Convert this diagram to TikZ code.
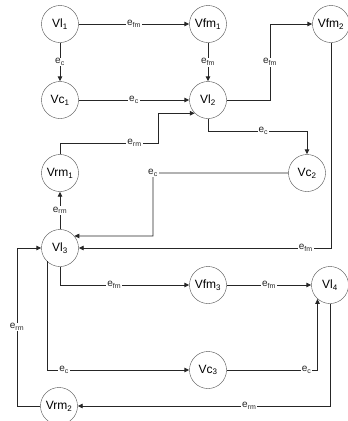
\documentclass[tikz,border=0pt]{standalone}
\usepackage{fontspec}
\setmainfont{Liberation Sans}
\usetikzlibrary{arrows.meta}

\begin{document}
\begin{tikzpicture}[x=1pt,y=-1pt,>={Triangle[length=5pt,width=4.5pt]},
  state/.style={draw=black!70,circle,thin,minimum size=37pt,inner sep=0pt,font=\fontsize{12}{13}\selectfont},
  edge/.style={->,line width=0.9pt,black!85},
  lbl/.style={fill=white,inner sep=1pt,font=\fontsize{10}{11}\selectfont}]
  \useasboundingbox (0,0) rectangle (348,421);
  \node[state] (vl1) at (60,24) {Vl\textsubscript{1}};
  \node[state] (vfm1) at (208,24) {Vfm\textsubscript{1}};
  \node[state] (vfm2) at (331,24) {Vfm\textsubscript{2}};
  \node[state] (vc1) at (60,100) {Vc\textsubscript{1}};
  \node[state] (vl2) at (208,100) {Vl\textsubscript{2}};
  \node[state] (vrm1) at (60,173) {Vrm\textsubscript{1}};
  \node[state] (vc2) at (307,173) {Vc\textsubscript{2}};
  \node[state] (vl3) at (60,248) {Vl\textsubscript{3}};
  \node[state] (vfm3) at (208,285) {Vfm\textsubscript{3}};
  \node[state] (vl4) at (330,285) {Vl\textsubscript{4}};
  \node[state] (vc3) at (208,370) {Vc\textsubscript{3}};
  \node[state] (vrm2) at (59,406) {Vrm\textsubscript{2}};
  \draw[edge] (vl1) -- node[lbl] {e\textsubscript{fm}} (vfm1);
  \draw[edge] (vl1) -- node[lbl] {e\textsubscript{c}} (vc1);
  \draw[edge] (vc1) -- node[lbl] {e\textsubscript{c}} (vl2);
  \draw[edge] (vfm1) -- node[lbl] {e\textsubscript{fm}} (vl2);
  \draw[edge] (vl2.east) -- (270,100) |- node[lbl,pos=0.25] {e\textsubscript{fm}} (vfm2.west);
  \draw[edge] (vl2.south) -- (208,131) -| node[lbl,pos=0.28] {e\textsubscript{c}} (vc2.north);
  \draw[edge] (vrm1.north) |- node[lbl,pos=0.88] {e\textsubscript{rm}} (158,143) |- (vl2.225);
  \draw[edge] (vl3) -- node[lbl] {e\textsubscript{rm}} (vrm1);
  \draw[edge] (vc2.west) -| node[lbl] {e\textsubscript{c}} (153,236) -- (vl3.40);
  \draw[edge] (vfm2.south) |- node[lbl,pos=0.55] {e\textsubscript{fm}} (vl3.east);
  \draw[edge] (vl3.south) |- node[lbl,pos=0.71] {e\textsubscript{fm}} (vfm3.west);
  \draw[edge] (vl3.226) |- node[lbl,pos=0.56] {e\textsubscript{c}} (vc3.west);
  \draw[edge] (vfm3) -- node[lbl] {e\textsubscript{fm}} (vl4);
  \draw[edge] (vc3.east) -| node[lbl,pos=0.44] {e\textsubscript{c}} (vl4.228);
  \draw[edge] (vl4.south) |- node[lbl,pos=0.66] {e\textsubscript{rm}} (vrm2.east);
  \draw[edge] (vrm2.west) -- (17,406) |- node[lbl,pos=0.25] {e\textsubscript{rm}} (vl3.west);
\end{tikzpicture}
\end{document}
